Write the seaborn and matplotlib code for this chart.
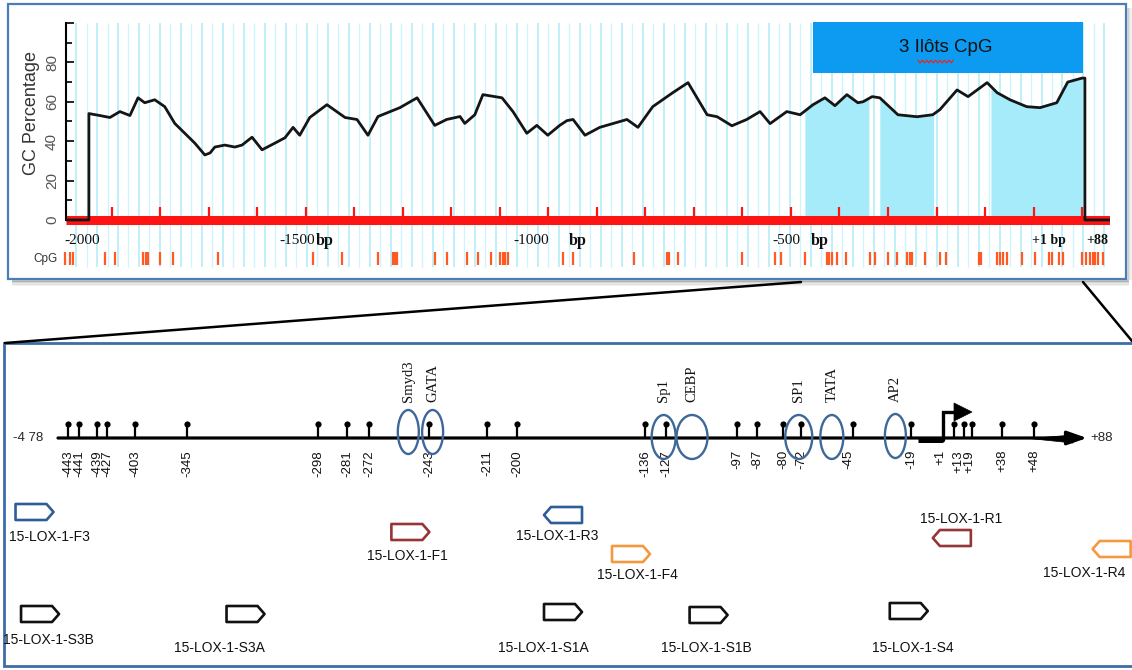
import numpy as np
import matplotlib
matplotlib.use("Agg")
import matplotlib.pyplot as plt
import seaborn as sns
from matplotlib.patches import Rectangle, Ellipse, Polygon
from matplotlib.lines import Line2D
from matplotlib.transforms import ScaledTranslation

# ---------------------------------------------------------------------------
# GC content (%) of the 15-LOX-1 upstream region, position in bp from the TSS
# ---------------------------------------------------------------------------
gc_bp = [-2048, -2000, -2000, -1977, -1956, -1935, -1914, -1897, -1883, -1862,
         -1841, -1820, -1799, -1778, -1757, -1746, -1736, -1715, -1694, -1679,
         -1658, -1637, -1610, -1589, -1572, -1558, -1537, -1501, -1463, -1438,
         -1415, -1394, -1348, -1312, -1275, -1250, -1222, -1212, -1191, -1174,
         -1134, -1111, -1082, -1061, -1038, -1013, -998, -985, -960, -929,
         -872, -849, -818, -776, -744, -704, -683, -652, -621, -593,
         -572, -537, -509, -482, -457, -436, -411, -388, -377, -358,
         -342, -304, -264, -231, -216, -180, -157, -117, -96, -69,
         -34, -6, 29, 52, 82, 88, 88, 140]
gc_pct = [0, 0, 54, 53, 52, 55, 53, 62, 59.5, 61,
          57.5, 49, 44, 39, 33, 34, 37, 38, 37, 38,
          42, 35.6, 39, 41.7, 47, 43, 52, 58.5, 52, 51,
          43, 52.5, 57, 62, 48, 51, 52.5, 49, 53.4, 63.6,
          62, 55, 44, 48, 43, 48, 50.4, 51, 43, 47,
          51, 47, 57.5, 64.6, 69.7, 53.4, 52.4, 47.8, 51, 55,
          48.9, 55, 53.4, 58.5, 62, 58, 63.6, 59.5, 60, 62.6,
          62, 53.4, 52.4, 53.4, 56, 66, 62.6, 69.7, 64.6, 61,
          57.5, 57, 59.5, 70, 72, 72, 0, 0]
assert len(gc_bp) == len(gc_pct)

# CpG dinucleotides in the same window
cpg_bp = [-2050, -2040, -2034, -1966, -1945, -1887, -1881, -1876, -1851, -1824,
          -1730, -1530, -1470, -1394, -1363, -1358, -1354, -1275, -1250, -1208,
          -1185, -1157, -1138, -1132, -1128, -1122, -1006, -985, -857, -788,
          -784, -765, -631, -562, -549, -499, -453, -449, -442, -432,
          -413, -363, -352, -325, -306, -285, -279, -275, -247, -216,
          -203, -134, -130, -96, -90, -84, -76, -44, -17, 13,
          19, 34, 42, 82, 90, 98, 105, 109, 115, 126]

# predicted CpG islands
island_start_bp = [-499, -342, -109]
island_end_bp = [-365, -229, 82]
island_title = "3 Ilôts CpG"

# ---------------------------------------------------------------------------
# Proximal promoter map (-478 .. +88)
# ---------------------------------------------------------------------------
map_start_bp, map_end_bp = -478, 88
tss_bp = 1
site_bp = [-443, -441, -439, -427, -403, -345, -298, -281, -272, -243, -211,
           -200, -136, -127, -97, -87, -80, -72, -45, -19, 1, 13, 19, 38, 48]
site_text = [f"+{v}" if v > 0 else f"{v}" for v in site_bp]

tf_names = ["Smyd3", "GATA", "Sp1", "CEBP", "SP1", "TATA", "AP2"]
tf_bp = [-253, -241, -128, -116, -73, -56, -26]

primer_names = ["15-LOX-1-F3", "15-LOX-1-F1", "15-LOX-1-R3", "15-LOX-1-F4",
                "15-LOX-1-R1", "15-LOX-1-R4", "15-LOX-1-S3B", "15-LOX-1-S3A",
                "15-LOX-1-S1A", "15-LOX-1-S1B", "15-LOX-1-S4"]
primer_bp = [-495, -252, -177, -143, 0, 111, -491, -324, -177, -109, -20]
primer_strand = [1, 1, -1, 1, -1, -1, 1, 1, 1, 1, 1]
primer_pair = ["3", "1", "3", "4", "1", "4", "S", "S", "S", "S", "S"]

# ---------------------------------------------------------------------------
# layout
# ---------------------------------------------------------------------------
W, H = 1132, 670
PAIR_COLORS = {"3": "#2e5d98", "1": "#973536", "4": "#f4993f", "S": "#111111"}
primer_row_px = [512, 532, 515, 554, 538, 549, 614, 614, 612, 615, 611]
primer_label_off = [(15, 25), (-3, 24), (-6, 21), (6, 21), (9, -19), (-27, 24),
                    (8, 26), (-26, 34), (-20, 36), (-2, 33), (4, 37)]
site_label_dx = {-45: -5, 1: -14, 13: -6, 19: -3}
tf_ell_w = [21, 21, 24, 31, 27, 23, 21]
tf_ell_y = [432, 432, 437, 437, 437, 437, 436]

# the promoter map is drawn on a hand-spread schematic track (bp -> pixel)
track_bp = [-520, -478, -443, -441, -439, -427, -403, -345, -298, -281, -272,
            -243, -211, -200, -136, -127, -97, -87, -80, -72, -45, -19, 1, 13,
            19, 38, 48, 88, 130]
track_px = [0, 58, 68, 79, 97, 107, 135, 187, 318, 347, 369, 429, 487, 517,
            645, 666, 737, 757, 783, 801, 853, 911, 954, 964, 972, 1002, 1034,
            1087, 1132]


def to_track(x):
    return np.interp(np.asarray(x, dtype=float), track_bp, track_px)


def from_track(t):
    return np.interp(np.asarray(t, dtype=float), track_px, track_bp)


sns.set_theme(style="white")
plt.rcParams["font.family"] = ["Liberation Sans", "DejaVu Sans"]
SERIF = ["Liberation Serif", "DejaVu Serif"]

fig = plt.figure(figsize=(W / 100, H / 100), dpi=100)
fig.patch.set_facecolor("white")

# ---------------- frames, shadows and zoom connectors ----------------
bg = fig.add_axes([0, 0, 1, 1], zorder=0)
bg.set_xlim(0, W)
bg.set_ylim(H, 0)
bg.axis("off")
for k, a in enumerate([0.28, 0.18, 0.10, 0.05]):
    bg.plot([12, 1129], [280.5 + 1.5 * k] * 2, color="#444444", alpha=a, lw=1.6,
            solid_capstyle="butt")
    bg.plot([1127.5 + 1.5 * k] * 2, [8, 280], color="#444444", alpha=a * 0.6, lw=1.6,
            solid_capstyle="butt")
bg.add_patch(Rectangle((8, 4), 1118, 275, fc="white", ec="#4a7ebb", lw=1.6))
bg.add_patch(Rectangle((4, 343), 1145, 323, fc="white", ec="#3d6da7", lw=2.0))
bg.plot([801, 5], [282, 343], color="black", lw=1.8, solid_capstyle="round")
bg.plot([1083, 1132], [282, 341], color="black", lw=1.8)

# ---------------- GC profile ----------------
ax = fig.add_axes([66 / W, 1 - 268 / H, (1110 - 66) / W, 248 / H], zorder=3)
ax.set_facecolor("white")

grid_a = np.arange(-2027, 141, 44)
grid_b = np.arange(-2005, 141, 44)
ax.vlines(grid_a, -24, 100, color="#aeeef8", lw=1.1, zorder=0)
ax.vlines(grid_b, -24, 100, color="#cdf5fb", lw=1.0, zorder=0)

prof_x = np.array(gc_bp[2:-2], dtype=float)
prof_y = np.array(gc_pct[2:-2], dtype=float)
for s, e in zip(island_start_bp, island_end_bp):
    inside = (prof_x > s) & (prof_x < e)
    xx = np.concatenate([[s], prof_x[inside], [e]])
    yy = np.concatenate([[np.interp(s, prof_x, prof_y)], prof_y[inside],
                         [np.interp(e, prof_x, prof_y)]])
    ax.fill_between(xx, 0, yy, color="#a6ebf9", lw=0, zorder=1)

ax.axhline(0, color="#ff1414", lw=6.5, zorder=2, solid_capstyle="butt")
ax.vlines(np.linspace(-1952, 82, 21), 0, 6.8, color="#ff1414", lw=1.6, zorder=2)

sns.lineplot(x=gc_bp, y=gc_pct, ax=ax, color="#151515", lw=2.0,
             estimator=None, sort=False, legend=False, zorder=4)

ax.vlines(cpg_bp, -22.8, -16.2, color="#ff5a24", lw=1.6, zorder=2, clip_on=False)

ax.add_patch(Rectangle((-482, 74.6), 566, 26, fc="#0c9bf0", ec="none", zorder=5))
ax.text(-203, 87.3, island_title, ha="center", va="center", fontsize=13.5,
        color="#111111", zorder=6)
zig_x = np.linspace(-262, -188, 17)
zig_y = 80.4 + 0.7 * (-1.0) ** np.arange(17)
ax.plot(zig_x, zig_y, color="#e02a2a", lw=0.9, zorder=6)

ax.set_xlim(-2048, 140.6)
ax.set_ylim(-24.4, 101.5)
for side in ["top", "right", "bottom"]:
    ax.spines[side].set_visible(False)
ax.spines["left"].set_bounds(0, 100)
ax.spines["left"].set_color("black")
ax.spines["left"].set_linewidth(1.5)
ax.set_xticks([])
ax.set_yticks([0, 20, 40, 60, 80, 100])
ax.set_yticklabels(["0", "20", "40", "60", "80", ""])
ax.set_yticks([10, 30, 50, 70, 90], minor=True)
ax.tick_params(axis="y", which="both", left=True, direction="in", color="black",
               width=1.2, labelsize=11, labelcolor="#555555", pad=5)
ax.tick_params(axis="y", which="major", length=6)
ax.tick_params(axis="y", which="minor", length=4)
plt.setp(ax.get_yticklabels(), rotation=90, va="center", ha="right")
ax.set_xlabel("")
ax.set_ylabel("")

for x, s in zip([-2015, -1564, -1073, -537], ["-2000", "-1500", "-1000", "-500"]):
    ax.text(x, -10.2, s, ha="center", va="center", fontsize=11, family=SERIF,
            color="#111111")
for x in [-1505, -975, -467]:
    ax.text(x, -10.8, "bp", ha="center", va="center", fontsize=11.5, family=SERIF,
            weight="bold", color="#111111")
ax.text(13, -10.2, "+1 bp", ha="center", va="center", fontsize=10, family=SERIF,
        weight="bold", color="#111111")
ax.text(113, -10.2, "+88", ha="center", va="center", fontsize=10, family=SERIF,
        weight="bold", color="#111111")

fig.text(31 / W, 1 - 113 / H, "GC Percentage", rotation=90, ha="center",
         va="center", fontsize=13, color="#333333")
fig.text(45 / W, 1 - 259 / H, "CpG", ha="center", va="center", fontsize=8.5,
         color="#333333", zorder=5)

# ---------------- promoter map ----------------
mp = fig.add_axes([0, 0, 1, 1], zorder=2)
mp.set_xscale("function", functions=(to_track, from_track))
mp.set_xlim(-520, 130)
mp.set_ylim(H, 0)
mp.set_autoscale_on(False)
mp.axis("off")

LINE_Y, HEAD_Y = 438, 424

mp.annotate("", xy=(map_end_bp, LINE_Y), xytext=(map_start_bp, LINE_Y),
            arrowprops=dict(arrowstyle="-|>,head_length=0.8,head_width=0.28",
                            mutation_scale=15, lw=2.3, color="black",
                            shrinkA=0, shrinkB=0))
end_tr = ScaledTranslation(map_end_bp, LINE_Y, mp.transData)
mp.add_artist(Polygon([(-58, -0.5), (-14, 3), (-14, -5)], closed=True,
                      fc="black", ec="black", lw=0.5, transform=end_tr))
mp.annotate("-4 78", xy=(map_start_bp, LINE_Y), xytext=(-15, 0),
            textcoords="offset pixels", ha="right", va="center", fontsize=9.5)
mp.annotate("+88", xy=(map_end_bp, LINE_Y), xytext=(3, 0),
            textcoords="offset pixels", ha="left", va="center", fontsize=9.5)

# transcription start: bent arrow
tss_tr = ScaledTranslation(tss_bp, LINE_Y, mp.transData)
mp.add_artist(Line2D([-36, -11], [-1.5, -1.5], lw=3.6, color="black",
                     solid_capstyle="butt", transform=tss_tr))
mp.add_artist(Line2D([-11, -11, 2], [-1.5, 26, 26], lw=2.4, color="black",
                     solid_joinstyle="miter", transform=tss_tr))
mp.add_artist(Polygon([(0, 35), (18, 26), (0, 17)], closed=True, fc="black",
                      ec="black", lw=0.5, transform=tss_tr))

# CpG sites
mp.vlines(site_bp, HEAD_Y, LINE_Y, color="black", lw=1.6, zorder=4)
mp.scatter(site_bp, [HEAD_Y] * len(site_bp), s=20, color="black", zorder=5,
           linewidths=0)
for v, s in zip(site_bp, site_text):
    mp.annotate(s, xy=(v, 450), xytext=(site_label_dx.get(v, 0), 0),
                textcoords="offset pixels", rotation=90, ha="center", va="top",
                fontsize=9.5, color="#111111")

# transcription-factor binding sites
for name, v, w, yc in zip(tf_names, tf_bp, tf_ell_w, tf_ell_y):
    tr = ScaledTranslation(v, yc, mp.transData)
    mp.add_artist(Ellipse((0, 0), w, 44, fill=False, ec="#3e6899", lw=1.7,
                          transform=tr, zorder=6))
    mp.annotate(name, xy=(v, 402), rotation=90, ha="center", va="bottom",
                fontsize=10.5, family=SERIF, color="#111111")

# primers
fwd_shape = np.array([(-19, -8), (12, -8), (19, 0), (12, 8), (-19, 8)], dtype=float)
for name, v, strand, pair, ypx, (dx, dy) in zip(primer_names, primer_bp,
                                                primer_strand, primer_pair,
                                                primer_row_px, primer_label_off):
    shape = fwd_shape * np.array([strand, 1.0])
    tr = ScaledTranslation(v, ypx, mp.transData)
    mp.add_artist(Polygon(shape, closed=True, fill=False, ec=PAIR_COLORS[pair],
                          lw=1.9, joinstyle="round", transform=tr))
    mp.annotate(name, xy=(v, ypx), xytext=(dx, -dy), textcoords="offset pixels",
                ha="center", va="center", fontsize=10, color="#111111")

fig.savefig("out.png", dpi=100, facecolor="white")
